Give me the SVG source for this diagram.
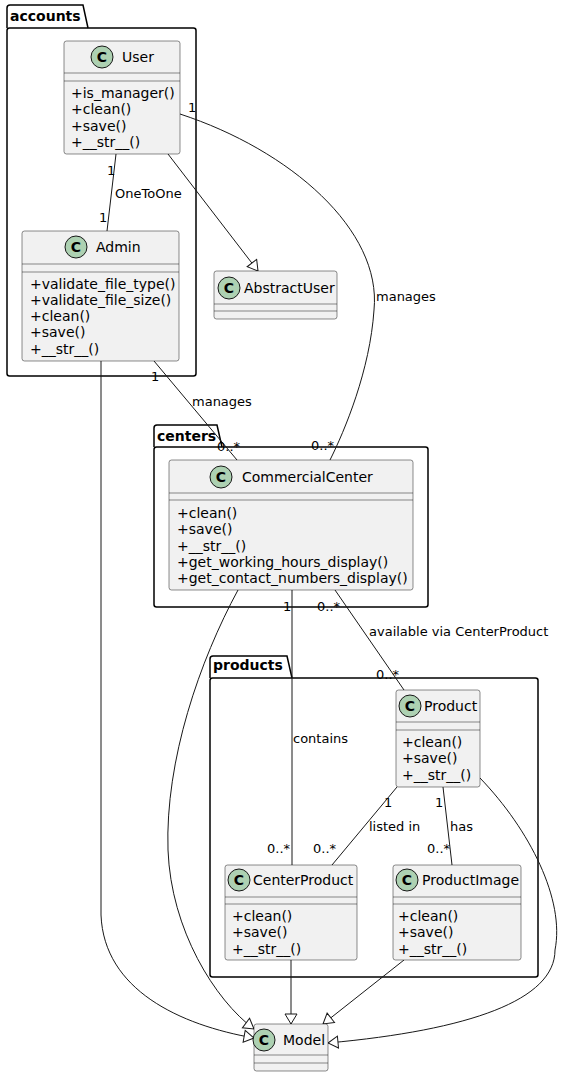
<svg xmlns="http://www.w3.org/2000/svg" width="578" height="1077" viewBox="0 0 578 1077">
<style>
text{font-family:"DejaVu Sans","Liberation Sans",sans-serif;fill:#000}
.pkg{fill:none;stroke:#000;stroke-width:1.5}
.pname{font-size:14px;font-weight:bold}
.box{fill:#F1F1F1;stroke:#181818;stroke-width:0.5}
.div{stroke:#181818;stroke-width:0.5}
.ci{fill:#ADD1B2;stroke:#181818;stroke-width:1}
.cl{font-size:14px;font-weight:bold;text-anchor:middle}
.nm{font-size:14px}
.m{font-size:14px}
.lb{font-size:13px}
.ln{fill:none;stroke:#181818;stroke-width:1}
.gen{marker-end:url(#tri)}
</style>
<defs>
<marker id="tri" markerUnits="userSpaceOnUse" markerWidth="14" markerHeight="16" refX="11" refY="7" orient="auto">
<path d="M1,1 L11,7 L1,13 Z" fill="#FFFFFF" stroke="#181818" stroke-width="1"/>
</marker>
</defs>

<g id="pkg-accounts">
<path class="pkg" d="M7,28 L7,8 Q7,5 10,5 L83,5 L88,28"/>
<rect class="pkg" x="7" y="28" width="189" height="348" rx="2.5"/>
<text class="pname" x="10" y="21">accounts</text>
</g>
<g id="pkg-centers">
<path class="pkg" d="M154,447 L154,428 Q154,425 157,425 L217,425 L222,447"/>
<rect class="pkg" x="154" y="447" width="274" height="160" rx="2.5"/>
<text class="pname" x="157" y="441">centers</text>
</g>
<g id="pkg-products">
<path class="pkg" d="M210,678 L210,659 Q210,656 213,656 L287,656 L292,678"/>
<rect class="pkg" x="210" y="678" width="328" height="299" rx="2.5"/>
<text class="pname" x="213" y="670">products</text>
</g>

<g id="connectors">
<path class="ln" d="M116,154 L107,231"/>
<path class="ln gen" d="M168,154 L258,271"/>
<path class="ln" d="M180,114 C290,150 382,230 374,310 C370,370 345,430 330,460"/>
<path class="ln" d="M154,361 L237,460"/>
<path class="ln gen" d="M101,361 L101,915 C104,990 180,1025 254,1038"/>
<path class="ln gen" d="M238,590 C200,660 165,760 168,850 C171,930 215,1000 254,1029"/>
<path class="ln" d="M292,590 L292,865"/>
<path class="ln" d="M335,590 L404,690"/>
<path class="ln" d="M397,787 L332,865"/>
<path class="ln" d="M443,787 L452,865"/>
<path class="ln gen" d="M480,778 C530,830 565,900 555,950 C555,1000 470,1030 328,1043"/>
<path class="ln gen" d="M291,960 L291,1024"/>
<path class="ln gen" d="M404,960 L323,1024"/>
<text class="lb" x="188" y="112">1</text>
<text class="lb" x="107" y="175">1</text>
<text class="lb" x="115" y="198">OneToOne</text>
<text class="lb" x="99" y="222">1</text>
<text class="lb" x="376" y="301">manages</text>
<text class="lb" x="151" y="381">1</text>
<text class="lb" x="192" y="406">manages</text>
<text class="lb" x="217" y="451">0..*</text>
<text class="lb" x="311" y="450">0..*</text>
<text class="lb" x="283" y="611">1</text>
<text class="lb" x="317" y="611">0..*</text>
<text class="lb" x="369" y="636">available via CenterProduct</text>
<text class="lb" x="376" y="679">0..*</text>
<text class="lb" x="293" y="743">contains</text>
<text class="lb" x="384" y="807">1</text>
<text class="lb" x="435" y="807">1</text>
<text class="lb" x="369" y="831">listed in</text>
<text class="lb" x="450" y="831">has</text>
<text class="lb" x="267" y="853">0..*</text>
<text class="lb" x="313" y="853">0..*</text>
<text class="lb" x="427" y="853">0..*</text>
</g>

<g id="User">
<rect class="box" x="64" y="41" width="116" height="113" rx="2.5"/>
<circle class="ci" cx="102" cy="57" r="11"/>
<text class="cl" x="102" y="62">C</text>
<text class="nm" x="122" y="62">User</text>
<line class="div" x1="64" y1="73" x2="180" y2="73"/>
<line class="div" x1="64" y1="81" x2="180" y2="81"/>
<text class="m" x="71" y="98">+is_manager()</text>
<text class="m" x="71" y="114.3">+clean()</text>
<text class="m" x="71" y="130.6">+save()</text>
<text class="m" x="71" y="146.9">+__str__()</text>
</g>

<g id="Admin">
<rect class="box" x="22" y="231" width="157" height="130" rx="2.5"/>
<circle class="ci" cx="76" cy="247" r="11"/>
<text class="cl" x="76" y="252">C</text>
<text class="nm" x="96" y="252">Admin</text>
<line class="div" x1="22" y1="264" x2="179" y2="264"/>
<line class="div" x1="22" y1="272" x2="179" y2="272"/>
<text class="m" x="30" y="288.5">+validate_file_type()</text>
<text class="m" x="30" y="304.8">+validate_file_size()</text>
<text class="m" x="30" y="321.1">+clean()</text>
<text class="m" x="30" y="337.4">+save()</text>
<text class="m" x="30" y="353.7">+__str__()</text>
</g>

<g id="AbstractUser">
<rect class="box" x="214" y="271" width="123" height="48" rx="2.5"/>
<circle class="ci" cx="229" cy="288" r="11"/>
<text class="cl" x="229" y="293">C</text>
<text class="nm" x="244" y="293">AbstractUser</text>
<line class="div" x1="214" y1="304" x2="337" y2="304"/>
<line class="div" x1="214" y1="311" x2="337" y2="311"/>
</g>

<g id="CommercialCenter">
<rect class="box" x="169" y="460" width="244" height="130" rx="2.5"/>
<circle class="ci" cx="221" cy="477" r="11"/>
<text class="cl" x="221" y="482">C</text>
<text class="nm" x="242" y="482">CommercialCenter</text>
<line class="div" x1="169" y1="493" x2="413" y2="493"/>
<line class="div" x1="169" y1="500" x2="413" y2="500"/>
<text class="m" x="177" y="518">+clean()</text>
<text class="m" x="177" y="534.3">+save()</text>
<text class="m" x="177" y="550.6">+__str__()</text>
<text class="m" x="177" y="566.9">+get_working_hours_display()</text>
<text class="m" x="177" y="583.2">+get_contact_numbers_display()</text>
</g>

<g id="Product">
<rect class="box" x="396" y="690" width="84" height="97" rx="2.5"/>
<circle class="ci" cx="410" cy="706" r="11"/>
<text class="cl" x="410" y="711">C</text>
<text class="nm" x="424" y="711">Product</text>
<line class="div" x1="396" y1="722" x2="480" y2="722"/>
<line class="div" x1="396" y1="730" x2="480" y2="730"/>
<text class="m" x="402" y="747">+clean()</text>
<text class="m" x="402" y="763.3">+save()</text>
<text class="m" x="402" y="779.6">+__str__()</text>
</g>

<g id="CenterProduct">
<rect class="box" x="225" y="865" width="132" height="95" rx="2.5"/>
<circle class="ci" cx="239" cy="880" r="11"/>
<text class="cl" x="239" y="885">C</text>
<text class="nm" x="253" y="885">CenterProduct</text>
<line class="div" x1="225" y1="897" x2="357" y2="897"/>
<line class="div" x1="225" y1="904" x2="357" y2="904"/>
<text class="m" x="232" y="921">+clean()</text>
<text class="m" x="232" y="937.3">+save()</text>
<text class="m" x="232" y="953.6">+__str__()</text>
</g>

<g id="ProductImage">
<rect class="box" x="393" y="865" width="128" height="95" rx="2.5"/>
<circle class="ci" cx="407" cy="880" r="11"/>
<text class="cl" x="407" y="885">C</text>
<text class="nm" x="422" y="885">ProductImage</text>
<line class="div" x1="393" y1="897" x2="521" y2="897"/>
<line class="div" x1="393" y1="904" x2="521" y2="904"/>
<text class="m" x="398" y="921">+clean()</text>
<text class="m" x="398" y="937.3">+save()</text>
<text class="m" x="398" y="953.6">+__str__()</text>
</g>

<g id="Model">
<rect class="box" x="254" y="1024" width="74" height="47" rx="2.5"/>
<circle class="ci" cx="264" cy="1040" r="11"/>
<text class="cl" x="264" y="1045">C</text>
<text class="nm" x="283" y="1045">Model</text>
<line class="div" x1="254" y1="1055" x2="328" y2="1055"/>
<line class="div" x1="254" y1="1063" x2="328" y2="1063"/>
</g>
</svg>
